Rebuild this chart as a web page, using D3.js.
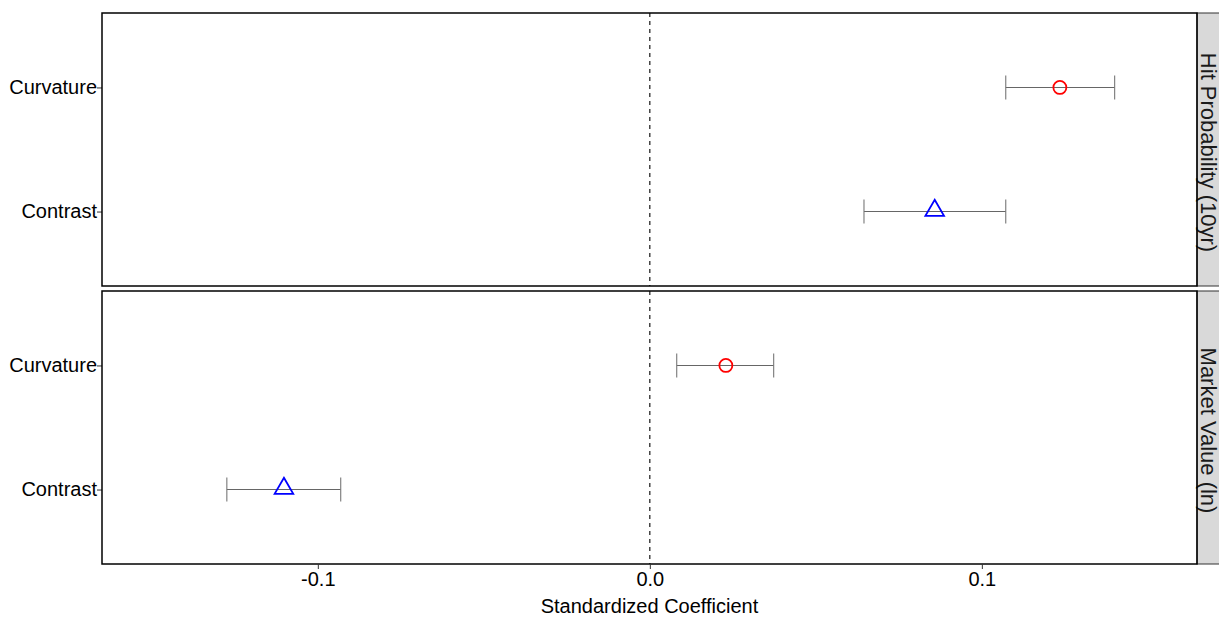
<!DOCTYPE html>
<html><head><meta charset="utf-8">
<script src="https://cdn.jsdelivr.net/npm/d3@7"></script>
<style>body{margin:0;background:#fff}svg{display:block}text{font-family:"Liberation Sans",Arial,sans-serif}</style>
</head><body><svg id="c" width="1219" height="617"></svg>
<script>
const panels = ["Hit Probability (10yr)", "Market Value (ln)"];
const terms = ["Contrast", "Curvature"];
const estimates = [[0.0858, 0.1235], [-0.1102, 0.0229]];
const lower = [[0.0645, 0.1072], [-0.1274, 0.0081]];
const upper = [[0.1072, 0.1400], [-0.0931, 0.0373]];
const xTicks = [-0.1, 0.0, 0.1];
const xTickLabels = ["-0.1", "0.0", "0.1"];

const svg = d3.select("#c");
const L = 102, R = 1197;
const panelTops = [13, 291], panelH = 273;
const x = d3.scaleLinear().domain([-0.165, 0.1648]).range([L, R]);
const FF = '"Liberation Sans",Arial,sans-serif';

panels.forEach((p, i) => {
  const top = panelTops[i], bot = top + panelH;
  const y = d3.scaleLinear().domain([0.4, 2.6]).range([bot, top]);
  const g = svg.append("g");
  g.append("rect").attr("x", L).attr("y", top).attr("width", R - L).attr("height", panelH)
    .attr("fill", "#fff");
  // strip
  g.append("rect").attr("x", R).attr("y", top).attr("width", 40).attr("height", panelH)
    .attr("fill", "#d9d9d9").attr("stroke", "#333").attr("stroke-width", 1);
  g.append("text").attr("transform", `translate(${R + 4},${(top + bot) / 2 + 3}) rotate(90)`)
    .attr("text-anchor", "middle").attr("font-size", 22).attr("fill", "#1a1a1a").text(p);
  // zero line
  g.append("line").attr("x1", x(0)).attr("x2", x(0)).attr("y1", top).attr("y2", bot)
    .attr("stroke", "#000").attr("stroke-width", 1.1).attr("stroke-dasharray", "4,4");
  // y axis
  const ya = d3.axisLeft(d3.scaleOrdinal().domain(terms).range(terms.map((t, k) => y(k + 1))))
    .tickSize(5).tickPadding(0);
  const yg = g.append("g").attr("transform", `translate(${L},0)`).call(ya);
  yg.select(".domain").remove();
  yg.selectAll("text").attr("font-size", 20).attr("fill", "#000").style("font-family", FF);
  yg.selectAll("line").attr("stroke", "#333");
  // error bars
  terms.forEach((t, k) => {
    const yy = y(k + 1);
    const lo = x(lower[i][k]), hi = x(upper[i][k]);
    g.append("line").attr("x1", lo).attr("x2", hi).attr("y1", yy).attr("y2", yy).attr("stroke", "#666").attr("stroke-width", 1.1);
    [lo, hi].forEach(xx => g.append("line").attr("x1", xx).attr("x2", xx).attr("y1", yy - 12).attr("y2", yy + 12).attr("stroke", "#777").attr("stroke-width", 1.1));
    const cx = x(estimates[i][k]);
    if (t === "Curvature") {
      g.append("circle").attr("cx", cx).attr("cy", yy).attr("r", 6.5).attr("fill", "none").attr("stroke", "#ff0000").attr("stroke-width", 1.8);
    } else {
      g.append("path").attr("d", d3.symbol().type(d3.symbolTriangle).size(150)())
        .attr("transform", `translate(${cx},${yy - 1})`).attr("fill", "none").attr("stroke", "#0000ff").attr("stroke-width", 1.8);
    }
  });
  // panel border
  g.append("rect").attr("x", L).attr("y", top).attr("width", R - L).attr("height", panelH)
    .attr("fill", "none").attr("stroke", "#000").attr("stroke-width", 1.5);
});

// x axis
const xa = d3.axisBottom(x).tickValues(xTicks).tickFormat((d, k) => xTickLabels[k]).tickSize(5).tickPadding(3);
const xg = svg.append("g").attr("transform", `translate(0,${panelTops[1] + panelH})`).call(xa);
xg.select(".domain").remove();
xg.selectAll("text").attr("font-size", 20).attr("fill", "#000").style("font-family", FF);
xg.selectAll("line").attr("stroke", "#333");

svg.append("text").attr("x", (L + R) / 2).attr("y", 613).attr("text-anchor", "middle")
  .attr("font-size", 20).attr("fill", "#000").text("Standardized Coefficient");
</script></body></html>
